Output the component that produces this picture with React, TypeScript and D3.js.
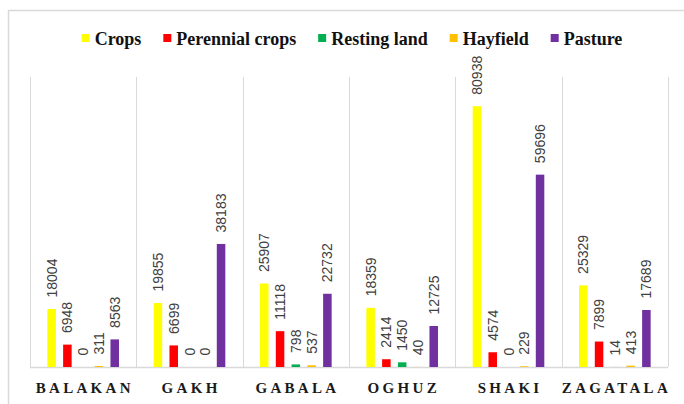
// Land use by district - grouped bar chart with rotated value labels

import { useEffect, useRef } from "react";
import * as d3 from "d3";

const districts = ["BALAKAN", "GAKH", "GABALA", "OGHUZ", "SHAKI", "ZAGATALA"];
const seriesNames = ["Crops", "Perennial crops", "Resting land", "Hayfield", "Pasture"];
const seriesColors = ["#FFFF00", "#FF0000", "#00B050", "#FFC000", "#7030A0"];

const crops = [18004, 19855, 25907, 18359, 80938, 25329];
const perennialCrops = [6948, 6699, 11118, 2414, 4574, 7899];
const restingLand = [0, 0, 798, 1450, 0, 14];
const hayfield = [311, 0, 537, 40, 229, 413];
const pasture = [8563, 38183, 22732, 12725, 59696, 17689];

const seriesValues = [crops, perennialCrops, restingLand, hayfield, pasture];

const yMax = 90000;

export default function App() {
  const svgRef = useRef<SVGSVGElement>(null);

  useEffect(() => {
    if (!svgRef.current) return;
    const svg = d3.select(svgRef.current);
    svg.selectAll("*").remove();

    const width = 684;
    const height = 404;
    const plot = { left: 30, right: 668, top: 77, bottom: 367 };
    const gridColor = "#d9d9d9";

    // outer chart frame (cropped on right/bottom)
    svg.append("rect")
      .attr("x", 8.5)
      .attr("y", 10.5)
      .attr("width", width + 20)
      .attr("height", height + 20)
      .attr("fill", "#fff")
      .attr("stroke", gridColor)
      .attr("stroke-width", 1.5);

    const x0 = d3.scaleBand<string>()
      .domain(districts)
      .range([plot.left, plot.right])
      .paddingInner(0)
      .paddingOuter(0);

    const x1 = d3.scaleBand<string>()
      .domain(seriesNames)
      .range([0, x0.bandwidth()])
      .paddingInner(0.46)
      .paddingOuter(1.1);

    const y = d3.scaleLinear().domain([0, yMax]).range([plot.bottom, plot.top]);

    // category separators
    const edges = districts.map((d) => x0(d) as number).concat([plot.right]);
    svg.append("g")
      .selectAll("line")
      .data(edges)
      .join("line")
      .attr("x1", (d) => Math.round(d) + 0.5)
      .attr("x2", (d) => Math.round(d) + 0.5)
      .attr("y1", plot.top)
      .attr("y2", plot.bottom)
      .attr("stroke", gridColor)
      .attr("stroke-width", 1);

    // baseline
    svg.append("line")
      .attr("x1", plot.left)
      .attr("x2", plot.right)
      .attr("y1", plot.bottom + 0.5)
      .attr("y2", plot.bottom + 0.5)
      .attr("stroke", gridColor)
      .attr("stroke-width", 1.5);

    // bars + labels
    const groups = svg.append("g")
      .selectAll("g")
      .data(districts)
      .join("g")
      .attr("transform", (d) => `translate(${x0(d)},0)`);

    groups.each(function (district, di) {
      const g = d3.select(this);
      seriesNames.forEach((name, si) => {
        const v = seriesValues[si][di];
        const bx = x1(name) as number;
        const cx = bx + x1.bandwidth() / 2;
        if (v > 0) {
          g.append("rect")
            .attr("x", bx)
            .attr("y", y(v))
            .attr("width", x1.bandwidth())
            .attr("height", y(0) - y(v))
            .attr("fill", seriesColors[si]);
        }
        const ly = y(v) - 11.5;
        g.append("text")
          .attr("transform", `translate(${cx},${ly}) rotate(-90)`)
          .attr("text-anchor", "start")
          .attr("dy", "0.36em")
          .attr("fill", "#404040")
          .style("font-family", "'Liberation Sans', Arial, sans-serif")
          .style("font-size", "14px")
          .text(v);
      });
    });

    // category labels
    svg.append("g")
      .selectAll("text")
      .data(districts)
      .join("text")
      .attr("x", (d) => (x0(d) as number) + x0.bandwidth() / 2 + 1.6)
      .attr("y", 393)
      .attr("text-anchor", "middle")
      .attr("fill", "#1a1a1a")
      .style("font-family", "'Liberation Serif', 'Times New Roman', serif")
      .style("font-weight", "bold")
      .style("font-size", "15px")
      .style("letter-spacing", "3.3px")
      .text((d) => d);

    // legend
    const legend = svg.append("g");
    const swatch = 8;
    const textGap = 5;
    const entryGap = 22;
    let cursor = 0;
    seriesNames.forEach((name, i) => {
      const item = legend.append("g").attr("transform", `translate(${cursor},0)`);
      item.append("rect")
        .attr("x", 0)
        .attr("y", 34)
        .attr("width", swatch)
        .attr("height", swatch)
        .attr("fill", seriesColors[i]);
      const t = item.append("text")
        .attr("x", swatch + textGap)
        .attr("y", 45)
        .attr("fill", "#111")
        .style("font-family", "'Liberation Serif', 'Times New Roman', serif")
        .style("font-weight", "bold")
        .style("font-size", "18px")
        .text(name);
      const w = (t.node() as SVGTextElement).getComputedTextLength();
      cursor += swatch + textGap + w + entryGap;
    });
    const legendWidth = cursor - entryGap;
    legend.attr("transform", `translate(${352 - legendWidth / 2},0)`);
  }, []);

  return (
    <svg
      ref={svgRef}
      width={684}
      height={404}
      style={{ position: "absolute", left: 0, top: 0, background: "#fff" }}
    />
  );
}
